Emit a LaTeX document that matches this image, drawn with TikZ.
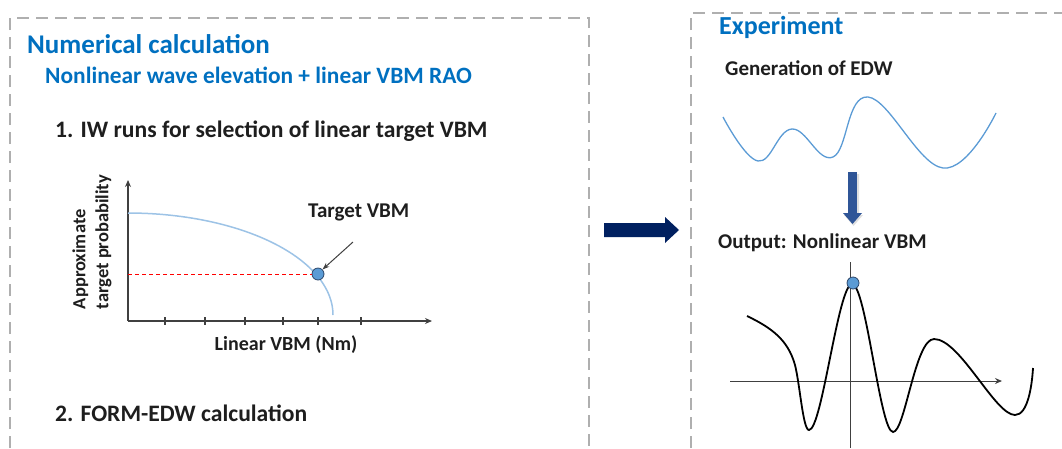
\documentclass[tikz,border=0pt]{standalone}
\usepackage{fontspec}
\setmainfont{Carlito}
\usetikzlibrary{arrows.meta}
\definecolor{titleblue}{RGB}{0,112,192}
\definecolor{boxgray}{RGB}{175,175,175}
\definecolor{curveblue}{RGB}{157,195,230}
\definecolor{waveblue}{RGB}{91,155,213}
\definecolor{navy}{RGB}{0,32,96}
\definecolor{arrowblue}{RGB}{47,85,151}
\definecolor{axisgray}{RGB}{64,64,64}
\definecolor{dotedge}{RGB}{45,70,105}
\definecolor{txt}{RGB}{30,30,30}
\begin{document}
\begin{tikzpicture}[x=1pt,y=-1pt,
  dashbox/.style={draw=boxgray, line width=2pt, dash pattern=on 12pt off 7pt},
  lbl/.style={inner sep=0pt, anchor=west, font=\bfseries, text=txt},
  ttl/.style={inner sep=0pt, anchor=west, font=\bfseries, text=titleblue},
  axisline/.style={draw=axisgray, line width=1.1pt},
  dot/.style={circle, fill=waveblue, draw=dotedge, line width=0.8pt, minimum size=12pt, inner sep=0pt}]
\useasboundingbox (0,0) rectangle (1062,448);
% boxes
\draw[dashbox] (10,448) -- (10,18) -- (589,18) -- (589,448);
\draw[dashbox] (691,448) -- (691,13) -- (1062,13);
% left texts
\node[ttl, font=\bfseries\fontsize{27}{32}\selectfont] (numcalc) at (27,44) {Numerical calculation};
\node[ttl, font=\bfseries\fontsize{23.4}{28}\selectfont] (nonlin) at (45,75) {Nonlinear wave elevation + linear VBM RAO};
\node[lbl, font=\bfseries\fontsize{23.6}{28}\selectfont] (step1) at (55,131) {1. IW runs for selection of linear target VBM};
\node[lbl, font=\bfseries\fontsize{23.6}{28}\selectfont] (step2) at (55,413) {2. FORM-EDW calculation};
% chart
\coordinate (o) at (128,321);
\coordinate (ytop) at (128,180);
\coordinate (xend) at (432,321);
\draw[axisline, -{Stealth[length=7pt,width=6pt]}] (o) -- (ytop);
\draw[axisline, -{Stealth[length=7pt,width=6pt]}] (o) -- (xend);
\foreach \t in {165,205,245,283,318,361} \draw[axisline] (\t,317) -- (\t,325);
\draw[curveblue, line width=1.5pt] plot[domain=0:90, samples=60] ({128+205*sin(\x)}, {315-102*cos(\x)});
\node[dot] (target) at (318,274) {};
\draw[red, line width=0.9pt, dash pattern=on 4pt off 3pt] (128,274) -- (target.west);
\node[lbl, font=\bfseries\fontsize{21}{25}\selectfont] (tlabel) at (308,212) {Target VBM};
\coordinate (tarrow) at (353,242);
\draw[axisgray, line width=1pt, -{Stealth[length=7pt,width=5pt]}] (tarrow) -- (target.north east);
\node[inner sep=0pt, font=\bfseries\fontsize{18.5}{23}\selectfont, text=txt, rotate=90, align=left] (ylabel) at (92,242) {Approximate\\target probability};
\node[inner sep=0pt, font=\bfseries\fontsize{20}{24}\selectfont, text=txt] (xlabel) at (286,345) {Linear VBM (Nm)};
% big arrow
\fill[navy] (604,223) -- (665,223) -- (665,217) -- (679,230) -- (665,243) -- (665,237) -- (604,237) -- cycle;
% right texts
\node[ttl, font=\bfseries\fontsize{26}{31}\selectfont] (exp) at (719,27) {Experiment};
\node[lbl, font=\bfseries\fontsize{21}{25}\selectfont] (gen) at (725,68) {Generation of EDW};
\draw[waveblue, line width=1.3pt] plot[smooth, tension=0.7] coordinates {(723,117) (758,161) (792,129) (833,157) (868,97) (943,168) (996,113)};
% down arrow
\fill[black!25, opacity=0.5] (849,174) rectangle (859,215) (844,215) -- (863,215) -- (853.5,226) -- cycle;
\fill[arrowblue] (848,172) rectangle (857,213);
\fill[arrowblue] (843,213) -- (862,213) -- (852.5,224) -- cycle;
\node[lbl, font=\bfseries\fontsize{21}{25}\selectfont] (out) at (718,243) {Output: Nonlinear VBM};
% bottom chart
\coordinate (vtop) at (850,262);
\coordinate (vbot) at (850,448);
\coordinate (hl) at (730,381);
\coordinate (hr) at (1002,381);
\draw[axisgray, line width=1pt] (vtop) -- (vbot);
\draw[axisgray, line width=1pt, -{Stealth[length=7pt,width=6pt]}] (hl) -- (hr);
\draw[black, line width=1.8pt] (747,316) .. controls (772,328) and (788,340) .. (795,365)
  .. controls (800,385) and (803,430) .. (809,430)
  .. controls (822,430) and (838,285) .. (852,284)
  .. controls (866,284) and (880,432) .. (893,432)
  .. controls (905,432) and (915,339) .. (934,339)
  .. controls (960,339) and (995,415) .. (1015,415)
  .. controls (1028,415) and (1032,385) .. (1033,368);
\node[dot] (peak) at (853,283) {};
\end{tikzpicture}
\end{document}
